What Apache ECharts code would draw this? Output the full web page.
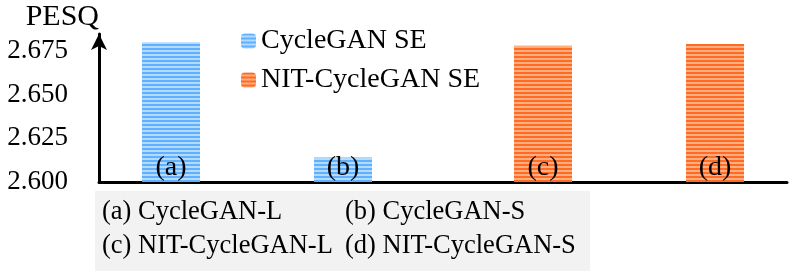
<!DOCTYPE html>
<html><head><meta charset="utf-8">
<script src="https://cdn.jsdelivr.net/npm/echarts@6/dist/echarts.min.js"></script>
<style>html,body{margin:0;padding:0;background:#fff}#c{width:790px;height:271px}</style>
</head><body><div id="c"></div>
<script>
const categories = ['(a)', '(b)', '(c)', '(d)'];
const seriesNames = ['CycleGAN SE', 'NIT-CycleGAN SE'];
const cycleganSE = [2.680, 2.614, '-', '-'];
const nitCycleganSE = ['-', '-', 2.678, 2.679];
const yTicks = [2.600, 2.625, 2.650, 2.675];
const notes = ['(a) CycleGAN-L', '(b) CycleGAN-S', '(c) NIT-CycleGAN-L', '(d) NIT-CycleGAN-S'];

function stripes(dark, light) {
  const c = document.createElement('canvas');
  c.width = 8; c.height = 4;
  const g = c.getContext('2d');
  g.fillStyle = light; g.fillRect(0, 0, 8, 4);
  g.fillStyle = dark; g.fillRect(0, 0, 8, 2);
  return { image: c, repeat: 'repeat' };
}
const blue = stripes('#5FB0FF', '#B3DAFF');
const orange = stripes('#FF6A24', '#FFAE80');
const font = '"Liberation Serif", "Times New Roman", serif';

const chart = echarts.init(document.getElementById('c'), null, { renderer: 'canvas' });
const labelCfg = {
  show: true, position: 'insideBottom', distance: 0,
  formatter: p => categories[p.dataIndex],
  color: '#000', fontFamily: font, fontSize: 28
};
chart.setOption({
  animation: false,
  grid: { left: 99, right: 3, top: 34, bottom: 89 },
  legend: {
    orient: 'vertical', left: 236, top: 22, itemGap: 11,
    itemWidth: 15, itemHeight: 15,
    textStyle: { fontFamily: font, fontSize: 28, color: '#000' },
    data: seriesNames
  },
  xAxis: {
    type: 'category', data: categories,
    axisLine: { lineStyle: { color: '#000', width: 3 } },
    axisTick: { show: false }, axisLabel: { show: false }
  },
  yAxis: {
    type: 'value', min: 2.6, max: 2.6847, interval: 0.025,
    name: 'PESQ', nameLocation: 'end', nameGap: 2,
    nameTextStyle: { fontFamily: font, fontSize: 30, color: '#000', align: 'right', verticalAlign: 'bottom', padding: [0, 0, 0, 0] },
    axisLine: { show: true, symbol: ['none', 'arrow'], symbolSize: [12, 16], lineStyle: { color: '#000', width: 3 } },
    axisTick: { show: false },
    splitLine: { show: false },
    axisLabel: {
      margin: 31, showMaxLabel: false, padding: [3, 0, 0, 0],
      formatter: v => yTicks.some(t => Math.abs(t - v) < 1e-6) ? v.toFixed(3) : '',
      fontFamily: font, fontSize: 27, color: '#000'
    }
  },
  series: [
    { name: seriesNames[0], type: 'bar', data: cycleganSE, barWidth: 58, barGap: '-51.7%',
      itemStyle: { color: blue }, label: labelCfg },
    { name: seriesNames[1], type: 'bar', data: nitCycleganSE, barWidth: 58,
      itemStyle: { color: orange }, label: labelCfg }
  ],
  graphic: [
    { type: 'rect', left: 95, top: 191, shape: { width: 495, height: 80 }, style: { fill: '#F2F2F2' }, z: -1 },
    { type: 'text', left: 102, top: 199, style: { text: notes[0], font: '26.5px ' + font, fill: '#000' } },
    { type: 'text', left: 345, top: 199, style: { text: notes[1], font: '26.5px ' + font, fill: '#000' } },
    { type: 'text', left: 102, top: 233, style: { text: notes[2], font: '26.5px ' + font, fill: '#000' } },
    { type: 'text', left: 345, top: 233, style: { text: notes[3], font: '26.5px ' + font, fill: '#000' } }
  ]
});
</script></body></html>
